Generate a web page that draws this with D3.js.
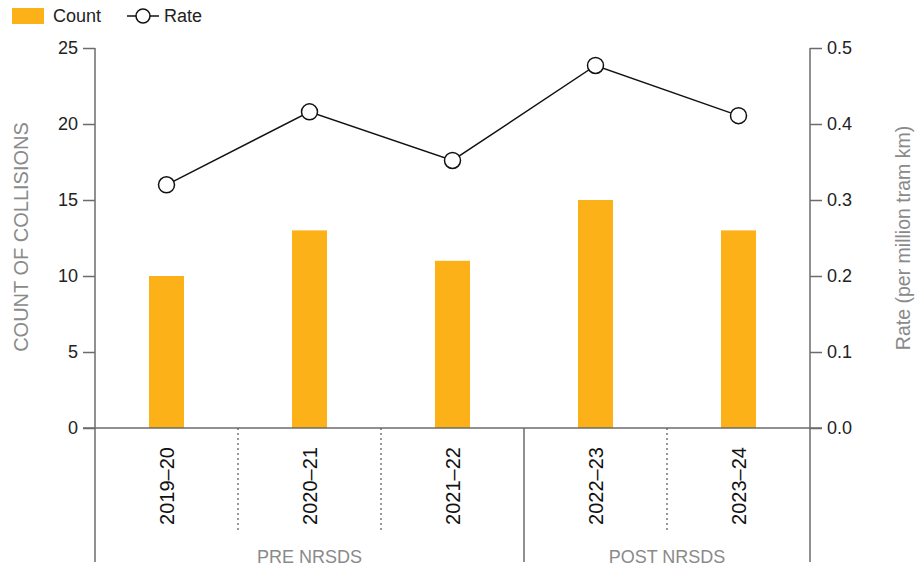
<!DOCTYPE html>
<html>
<head>
<meta charset="utf-8">
<title>Tram collisions</title>
<script src="https://d3js.org/d3.v7.min.js"></script>
<style>
  body { margin: 0; background: #fff; }
  svg text { font-family: "Liberation Sans", Arial, sans-serif; }
</style>
</head>
<body>
<div id="chart"></div>
<script>
var years = ["2019\u201320", "2020\u201321", "2021\u201322", "2022\u201323", "2023\u201324"];
var counts = [10, 13, 11, 15, 13];
var rates = [0.32, 0.416, 0.352, 0.477, 0.411];
var periods = [
  { label: "PRE NRSDS", from: 0, to: 2 },
  { label: "POST NRSDS", from: 3, to: 4 }
];
var countTicks = [0, 5, 10, 15, 20, 25];
var rateTicks = [0, 0.1, 0.2, 0.3, 0.4, 0.5];

var width = 920, height = 569;
var plotL = 95, plotR = 810, plotT = 48, base = 428, plotB = 562;
var orange = "#FBB117", axisCol = "#6b6b6b", titleCol = "#8a8a8a";

var svg = d3.select("#chart").append("svg")
    .attr("width", width)
    .attr("height", height);

var x = d3.scaleBand().domain(years).range([plotL, plotR]).padding(0);
var yC = d3.scaleLinear().domain([0, 25]).range([base, plotT]);
var yR = d3.scaleLinear().domain([0, 0.5]).range([base, plotT]);

var barW = x.bandwidth() * 0.245;

// bars
svg.selectAll("rect.bar")
  .data(counts)
  .enter().append("rect")
    .attr("class", "bar")
    .attr("x", function(d, i) { return x(years[i]) + x.bandwidth() / 2 - barW / 2; })
    .attr("y", function(d) { return yC(d); })
    .attr("width", barW)
    .attr("height", function(d) { return base - yC(d); })
    .attr("fill", orange);

// left axis
var gL = svg.append("g")
    .attr("transform", "translate(" + plotL + ",0)")
    .call(d3.axisLeft(yC).tickValues(countTicks).tickSize(12).tickPadding(5));
gL.select(".domain").remove();
gL.selectAll(".tick line").attr("stroke", axisCol).attr("stroke-width", 1.5);

// right axis
var gR = svg.append("g")
    .attr("transform", "translate(" + plotR + ",0)")
    .call(d3.axisRight(yR).tickValues(rateTicks).tickFormat(d3.format(".1f")).tickSize(12).tickPadding(5));
gR.select(".domain").remove();
gR.selectAll(".tick line").attr("stroke", axisCol).attr("stroke-width", 1.5);

svg.selectAll(".tick text")
  .attr("font-size", 18)
  .attr("font-family", "Liberation Sans, Arial, sans-serif")
  .attr("fill", "#222");

// vertical axis lines, extended through the category area
[plotL, plotR].forEach(function(px) {
  svg.append("line")
    .attr("x1", px).attr("x2", px)
    .attr("y1", plotT).attr("y2", plotB)
    .attr("stroke", axisCol).attr("stroke-width", 1.5);
});

// baseline
svg.append("line")
  .attr("x1", plotL - 12).attr("x2", plotR + 12)
  .attr("y1", base).attr("y2", base)
  .attr("stroke", axisCol).attr("stroke-width", 1.5);

// separators between categories
years.forEach(function(yr, i) {
  if (i === 0) return;
  var px = x(yr);
  var isPeriodBreak = periods.some(function(p) { return p.from === i; });
  svg.append("line")
    .attr("x1", px).attr("x2", px)
    .attr("y1", base)
    .attr("y2", isPeriodBreak ? plotB : 532)
    .attr("stroke", isPeriodBreak ? axisCol : "#555")
    .attr("stroke-width", isPeriodBreak ? 1.5 : 1.2)
    .attr("stroke-dasharray", isPeriodBreak ? null : "2,3");
});

// category labels
svg.selectAll("text.year")
  .data(years)
  .enter().append("text")
    .attr("class", "year")
    .attr("transform", function(d) {
      return "translate(" + (x(d) + x.bandwidth() / 2 + 7) + ",447) rotate(-90)";
    })
    .attr("text-anchor", "end")
    .attr("font-size", 20)
    .attr("fill", "#111")
    .text(function(d) { return d; });

// period labels
svg.selectAll("text.period")
  .data(periods)
  .enter().append("text")
    .attr("class", "period")
    .attr("x", function(p) {
      var x0 = p.from === 0 ? plotL : x(years[p.from]);
      var x1 = x(years[p.to]) + x.bandwidth();
      return (x0 + x1) / 2;
    })
    .attr("y", 563)
    .attr("text-anchor", "middle")
    .attr("font-size", 18)
    .attr("fill", titleCol)
    .text(function(p) { return p.label; });

// rate line
var line = d3.line()
  .x(function(d, i) { return x(years[i]) + x.bandwidth() / 2; })
  .y(function(d) { return yR(d); });

svg.append("path")
  .datum(rates)
  .attr("d", line)
  .attr("fill", "none")
  .attr("stroke", "#111")
  .attr("stroke-width", 1.5);

svg.selectAll("circle.rate")
  .data(rates)
  .enter().append("circle")
    .attr("class", "rate")
    .attr("cx", function(d, i) { return x(years[i]) + x.bandwidth() / 2; })
    .attr("cy", function(d) { return yR(d); })
    .attr("r", 8)
    .attr("fill", "#fff")
    .attr("stroke", "#111")
    .attr("stroke-width", 1.5);

// axis titles
svg.append("text")
  .attr("transform", "translate(28,237) rotate(-90)")
  .attr("text-anchor", "middle")
  .attr("font-size", 20)
  .attr("fill", titleCol)
  .text("COUNT OF COLLISIONS");

svg.append("text")
  .attr("transform", "translate(910,238) rotate(-90)")
  .attr("text-anchor", "middle")
  .attr("font-size", 19.5)
  .attr("fill", titleCol)
  .text("Rate (per million tram km)");

// legend
var leg = svg.append("g");
leg.append("rect")
  .attr("x", 12).attr("y", 8).attr("width", 32).attr("height", 16)
  .attr("fill", orange);
leg.append("text")
  .attr("x", 53).attr("y", 22)
  .attr("font-size", 18).attr("fill", "#222")
  .text("Count");
leg.append("line")
  .attr("x1", 127).attr("x2", 159).attr("y1", 16).attr("y2", 16)
  .attr("stroke", "#111").attr("stroke-width", 1.5);
leg.append("circle")
  .attr("cx", 143).attr("cy", 16).attr("r", 7)
  .attr("fill", "#fff").attr("stroke", "#111").attr("stroke-width", 1.5);
leg.append("text")
  .attr("x", 164).attr("y", 22)
  .attr("font-size", 18).attr("fill", "#222")
  .text("Rate");
</script>
</body>
</html>
